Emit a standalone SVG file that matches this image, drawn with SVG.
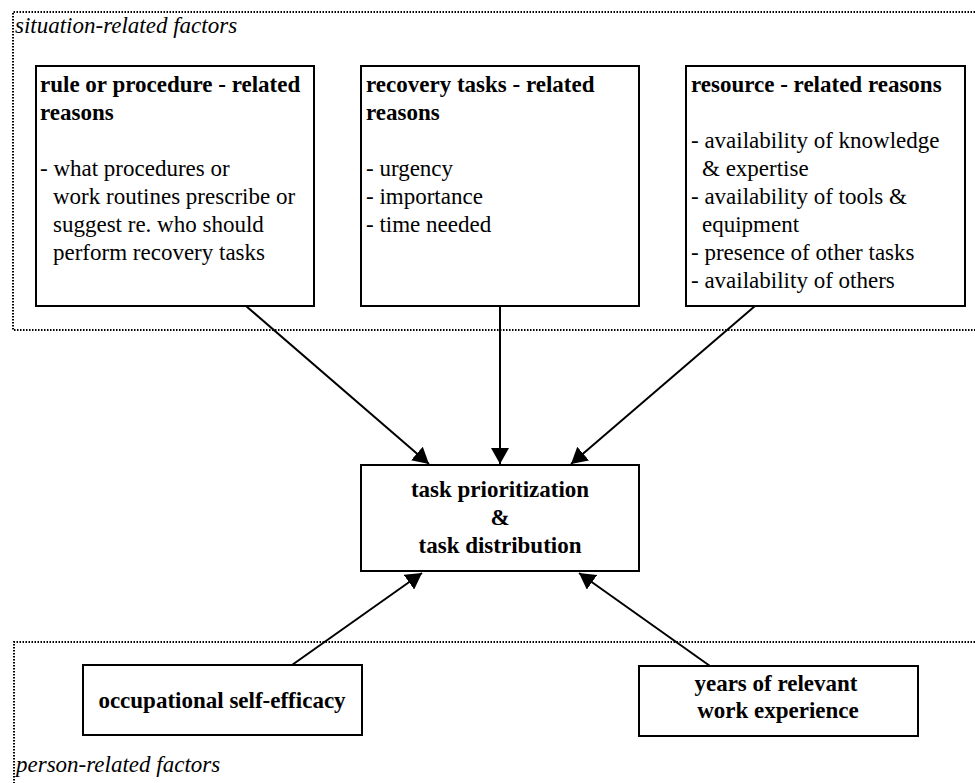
<svg xmlns="http://www.w3.org/2000/svg" width="975" height="783" viewBox="0 0 975 783">
  <defs>
    <marker id="arrow" markerUnits="userSpaceOnUse" markerWidth="17" markerHeight="18" refX="16" refY="9" orient="auto">
      <path d="M0,0 L16,9 L0,18 Z" fill="#000"/>
    </marker>
    <style>
      .frame { fill: none; stroke: #000; stroke-width: 2; stroke-dasharray: 1.5 1.5; }
      .box { fill: #fff; stroke: #000; stroke-width: 2; }
      .t { font-family: "Liberation Serif", "Times New Roman", serif; font-size: 23px; fill: #000; }
      .b { font-weight: bold; }
      .i { font-style: italic; }
      .c { text-anchor: middle; }
      .edge { stroke: #000; stroke-width: 2; fill: none; marker-end: url(#arrow); }
    </style>
  </defs>
  <rect width="975" height="783" fill="#fff"/>

  <!-- group frames -->
  <g id="situation-frame">
    <path class="frame" d="M975,12 H13 V330 H975"/>
    <text class="t i" x="15" y="33">situation-related factors</text>
  </g>
  <g id="person-frame">
    <path class="frame" d="M975,642 H14 V783"/>
    <text class="t i" x="16" y="772">person-related factors</text>
  </g>

  <!-- connectors -->
  <g id="connectors">
    <line class="edge" x1="246" y1="306" x2="429" y2="464"/>
    <line class="edge" x1="500" y1="306" x2="500" y2="464"/>
    <line class="edge" x1="755" y1="306" x2="571" y2="464"/>
    <line class="edge" x1="292" y1="665" x2="422" y2="573"/>
    <line class="edge" x1="710" y1="666" x2="579" y2="573"/>
  </g>

  <g id="rule-procedure">
    <rect class="box" x="36" y="66" width="278" height="240"/>
    <text class="t b" x="40" y="92">rule or procedure - related</text>
    <text class="t b" x="40" y="120">reasons</text>
    <text class="t" x="40" y="176">- what procedures or</text>
    <text class="t" x="53" y="204">work routines prescribe or</text>
    <text class="t" x="53" y="232">suggest re. who should</text>
    <text class="t" x="53" y="260">perform recovery tasks</text>
  </g>

  <g id="recovery-tasks">
    <rect class="box" x="361" y="66" width="278" height="240"/>
    <text class="t b" x="366" y="92">recovery tasks - related</text>
    <text class="t b" x="366" y="120">reasons</text>
    <text class="t" x="366" y="176">- urgency</text>
    <text class="t" x="366" y="204">- importance</text>
    <text class="t" x="366" y="232">- time needed</text>
  </g>

  <g id="resource">
    <rect class="box" x="686" y="66" width="279" height="240"/>
    <text class="t b" x="691" y="92">resource - related reasons</text>
    <text class="t" x="691" y="148">- availability of knowledge</text>
    <text class="t" x="702" y="176">&amp; expertise</text>
    <text class="t" x="691" y="204">- availability of tools &amp;</text>
    <text class="t" x="702" y="232">equipment</text>
    <text class="t" x="691" y="260">- presence of other tasks</text>
    <text class="t" x="691" y="288">- availability of others</text>
  </g>

  <g id="task-prioritization">
    <rect class="box" x="361" y="465" width="278" height="106"/>
    <text class="t b c" x="500" y="497">task prioritization</text>
    <text class="t b c" x="500" y="525">&amp;</text>
    <text class="t b c" x="500" y="553">task distribution</text>
  </g>

  <g id="self-efficacy">
    <rect class="box" x="83" y="665" width="279" height="70"/>
    <text class="t b c" x="222" y="708">occupational self-efficacy</text>
  </g>

  <g id="work-experience">
    <rect class="box" x="639" y="666" width="279" height="70"/>
    <text class="t b c" x="776" y="691">years of relevant</text>
    <text class="t b c" x="778" y="718">work experience</text>
  </g>
</svg>
